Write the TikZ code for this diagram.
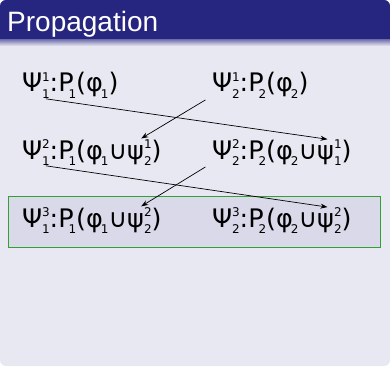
\documentclass[tikz,border=0pt]{standalone}
\usepackage{amsmath}
\usepackage{fontspec}
\setmainfont{DejaVu Sans}
\newfontfamily\titlefont{Liberation Sans}
\usetikzlibrary{arrows.meta,calc}
\definecolor{titleblue}{HTML}{262681}
\definecolor{bodylav}{HTML}{E8E8F2}
\definecolor{boxlav}{HTML}{D9D9EA}
\definecolor{boxgreen}{HTML}{33A033}
\newcommand{\scr}{\fontsize{12}{12}\selectfont}
% stacked super- and subscript
\newcommand{\sx}[2]{\makebox[0pt][l]{\raisebox{0.42em}{\scr#1}}\raisebox{-0.25em}{\scr#2}}
% subscript tucked under the letter
\newcommand{\lo}[2][-0.2em]{\kern#1\raisebox{-0.25em}{\scr#2}}
% one formula: head, middle, tail and closing bracket as named nodes
\newcommand{\formula}[5]{%
  \node[fml] (#1h) at (#2) {#3};
  \node[fml] (#1m) at (#1h.base east) {#4};
  \node[fml] (#1t) at (#1m.base east) {#5};
  \node[fml] (#1c) at (#1t.base east) {)};}

\begin{document}
\begin{tikzpicture}[x=1pt,y=-1pt,
  fml/.style={anchor=base west,inner sep=0pt,outer sep=0pt,font=\fontsize{25.5}{28}\selectfont},
  link/.style={-{Stealth[length=7pt,width=5pt]},line width=0.7pt,shorten <=3pt,shorten >=2pt}]
\useasboundingbox (0,0) rectangle (390,366);
% block body and title bar
\fill[bodylav,rounded corners=6pt] (0,0) rectangle (390,366);
\begin{scope}
\clip[rounded corners=6pt] (0,0) rectangle (390,366);
\fill[titleblue] (0,0) rectangle (390,40);
\shade[top color=titleblue!55!bodylav,bottom color=bodylav] (0,40) rectangle (390,46);
\end{scope}
\node[anchor=base west,inner sep=0pt,text=white,font=\titlefont\fontsize{28}{32}\selectfont] (title) at (7,32) {Propagation};

% highlighted last step
\draw[boxgreen,fill=boxlav,line width=0.8pt] (8,196) rectangle (380,247);

% processes 1 and 2, steps 1 to 3
\formula{p11}{22,92}{Ψ\sx{1}{1}}{:P\lo{1}(}{φ\lo[-0.08em]{1}}
\formula{p21}{212,92}{Ψ\sx{1}{2}}{:P\lo{2}(}{φ\lo[-0.08em]{2}}
\formula{p12}{22,159}{Ψ\sx{2}{1}}{:P\lo{1}(φ\lo[-0.08em]{1}∪}{ψ\sx{1}{2}}
\formula{p22}{212,159}{Ψ\sx{2}{2}}{:P\lo{2}(φ\lo[-0.08em]{2}∪}{ψ\sx{1}{1}}
\formula{p13}{22,227}{Ψ\sx{3}{1}}{:P\lo{1}(φ\lo[-0.08em]{1}∪}{ψ\sx{2}{2}}
\formula{p23}{212,227}{Ψ\sx{3}{2}}{:P\lo{2}(φ\lo[-0.08em]{2}∪}{ψ\sx{2}{2}}

% exchanged results
\draw[link] ($(p11h.south)+(7,0)$) -- (p22t.north);
\draw[link] ($(p21h.south west)+(-4,0)$) -- (p12t.north);
\draw[link] ($(p12h.south)+(7,0)$) -- (p23t.north);
\draw[link] ($(p22h.south west)+(-4,0)$) -- (p13t.north);
\end{tikzpicture}
\end{document}
